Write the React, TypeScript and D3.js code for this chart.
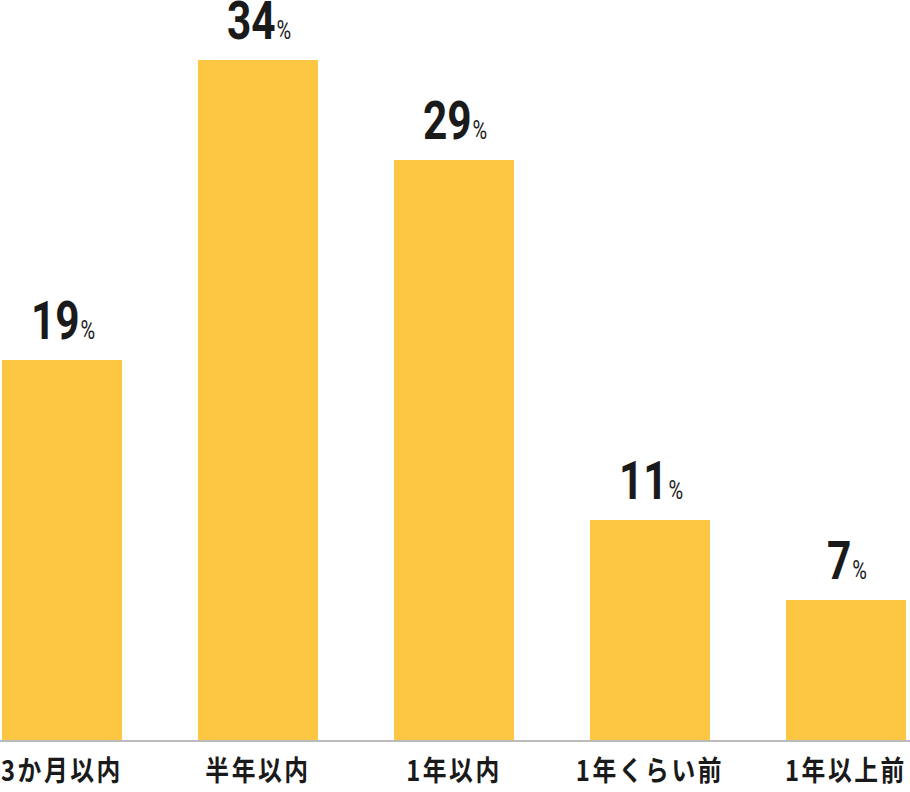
import { scaleBand, scaleLinear } from 'd3'

const categories = ['3か月以内', '半年以内', '1年以内', '1年くらい前', '1年以上前']
const values = [19, 34, 29, 11, 7]

const W = 910
const H = 792

export default function App() {
  const x = scaleBand<string>()
    .domain(categories)
    .range([2, 906])
    .paddingInner(76 / 196)
    .paddingOuter(0)
  const y = scaleLinear().domain([0, 34]).range([740, 60])

  return (
    <svg
      width={W}
      height={H}
      style={{ position: 'fixed', left: 0, top: 0, background: '#fff' }}
    >
      {values.map((v, i) => {
        const c = categories[i]
        const bx = x(c) ?? 0
        const cx = bx + x.bandwidth() / 2
        return (
          <g key={c}>
            <rect x={bx} y={y(v)} width={x.bandwidth()} height={y(0) - y(v)} fill='#FDC743' />
            <text
              transform={`translate(${cx + 1},${y(v) - 21}) scale(0.8,1)`}
              textAnchor='middle'
              fill='#1a1a1a'
              fontFamily="Roboto, 'DejaVu Sans', sans-serif"
              fontWeight='bold'
            >
              <tspan fontSize={53}>{v}</tspan>
              <tspan fontSize={25} fontWeight='normal' dx={1}>%</tspan>
            </text>
          </g>
        )
      })}
      <line x1={0} x2={W} y1={741} y2={741} stroke='#bbbbbb' strokeWidth={2} />
      {categories.map(c => (
        <text
          key={c}
          transform={`translate(${(x(c) ?? 0) + x.bandwidth() / 2},781) scale(0.85,1)`}
          textAnchor='middle'
          fill='#1a1a1a'
          fontFamily="'Noto Sans CJK JP', sans-serif"
          fontWeight='bold'
          fontSize={28}
          letterSpacing={3}
        >
          {c}
        </text>
      ))}
    </svg>
  )
}
